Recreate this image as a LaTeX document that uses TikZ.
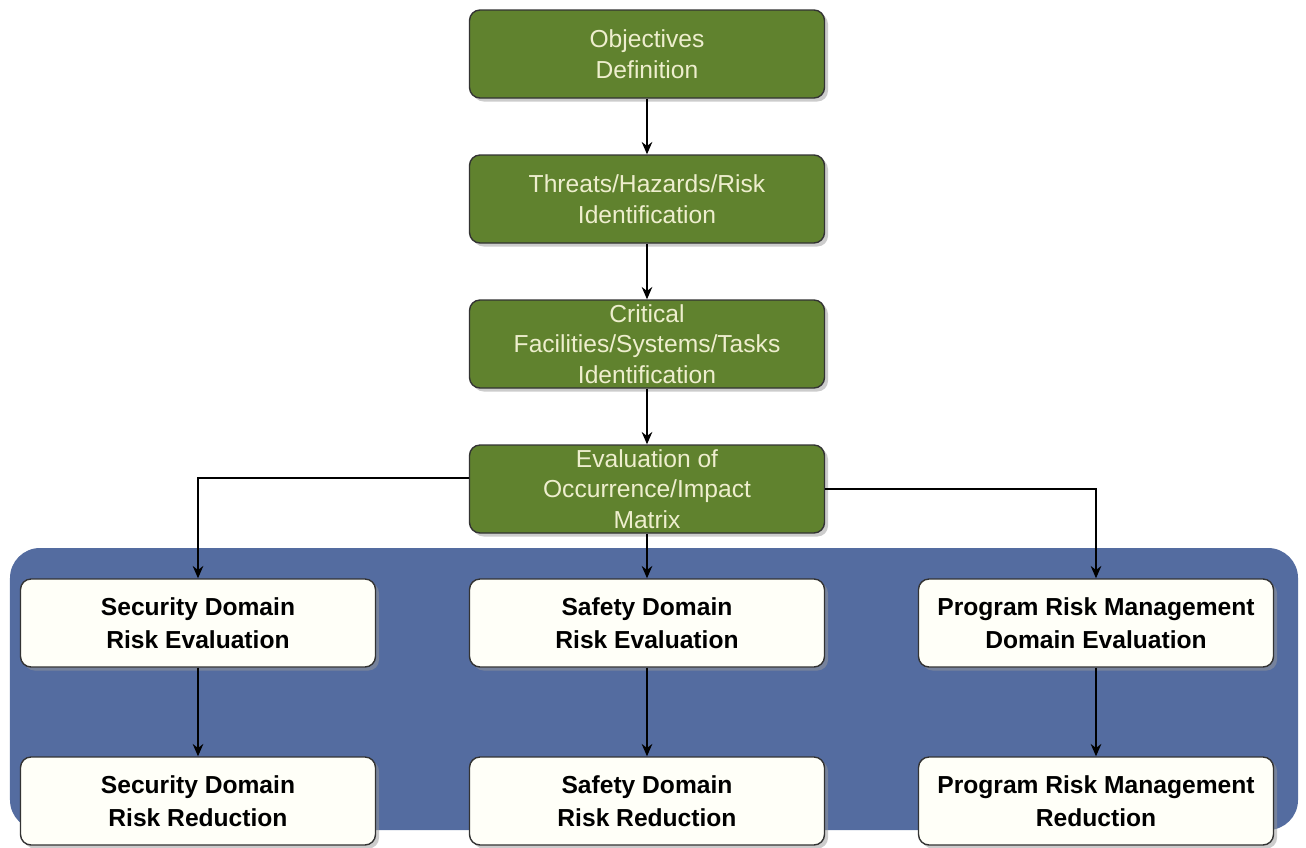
\documentclass[tikz,border=0pt]{standalone}
\usepackage{fontspec}
\setmainfont{Liberation Sans}
\usetikzlibrary{positioning,shadows,arrows.meta}
\definecolor{boxgreen}{RGB}{96,130,46}
\definecolor{textcream}{RGB}{238,238,206}
\definecolor{panelblue}{RGB}{84,108,160}
\definecolor{boxwhite}{RGB}{255,255,248}
\begin{document}
\begin{tikzpicture}[
    node distance=2.9cm,
    greenbox/.style={rectangle, rounded corners=6pt, draw=black!80, line width=0.8pt,
      fill=boxgreen, text=textcream, minimum width=7.1cm, minimum height=1.76cm,
      inner sep=1pt, align=center,
      font=\fontsize{14}{17.5}\selectfont,
      drop shadow={shadow xshift=0.07cm, shadow yshift=-0.07cm, fill=black!40}},
    whitebox/.style={rectangle, rounded corners=6pt, draw=black!80, line width=0.8pt,
      fill=boxwhite, text=black, minimum width=7.1cm, minimum height=1.76cm,
      inner sep=1pt, align=center,
      font=\fontsize{14}{18.7}\selectfont\bfseries,
      drop shadow={shadow xshift=0.07cm, shadow yshift=-0.07cm, fill=black!40}},
    >={Stealth[length=7pt,width=6pt]}
  ]
  \useasboundingbox (0,0) rectangle (26.12,-16.94);
  % blue panel behind the domain boxes
  \fill[panelblue, rounded corners=0.6cm] (0.2,-10.96) rectangle (25.96,-16.6);

  \node[greenbox] (obj) at (12.94,-1.08) {Objectives\\Definition};
  \node[greenbox] (thr) [below of=obj] {Threats/Hazards/Risk\\Identification};
  \node[greenbox] (crit) [below of=thr] {Critical\\Facilities/Systems/Tasks\\Identification};
  \node[greenbox] (eval) [below of=crit] {Evaluation of\\Occurrence/Impact\\Matrix};

  \node[whitebox] (safeeval) [below of=eval, node distance=2.68cm] {Safety Domain\\Risk Evaluation};
  \node[whitebox] (seceval) [left of=safeeval, node distance=8.98cm] {Security Domain\\Risk Evaluation};
  \node[whitebox] (progeval) [right of=safeeval, node distance=8.98cm] {Program Risk Management\\Domain Evaluation};

  \node[whitebox] (secred) [below of=seceval, node distance=3.56cm] {Security Domain\\Risk Reduction};
  \node[whitebox] (safered) [below of=safeeval, node distance=3.56cm] {Safety Domain\\Risk Reduction};
  \node[whitebox] (progred) [below of=progeval, node distance=3.56cm] {Program Risk Management\\Reduction};

  \draw[->, line width=1.1pt] (obj) -- (thr);
  \draw[->, line width=1.1pt] (thr) -- (crit);
  \draw[->, line width=1.1pt] (crit) -- (eval);
  \draw[->, line width=1.1pt] ([yshift=0.22cm]eval.west) -| (seceval.north);
  \draw[->, line width=1.1pt] (eval.south) -- (safeeval.north);
  \draw[->, line width=1.1pt] (eval.east) -| (progeval.north);
  \draw[->, line width=1.1pt] (seceval) -- (secred);
  \draw[->, line width=1.1pt] (safeeval) -- (safered);
  \draw[->, line width=1.1pt] (progeval) -- (progred);
\end{tikzpicture}
\end{document}
